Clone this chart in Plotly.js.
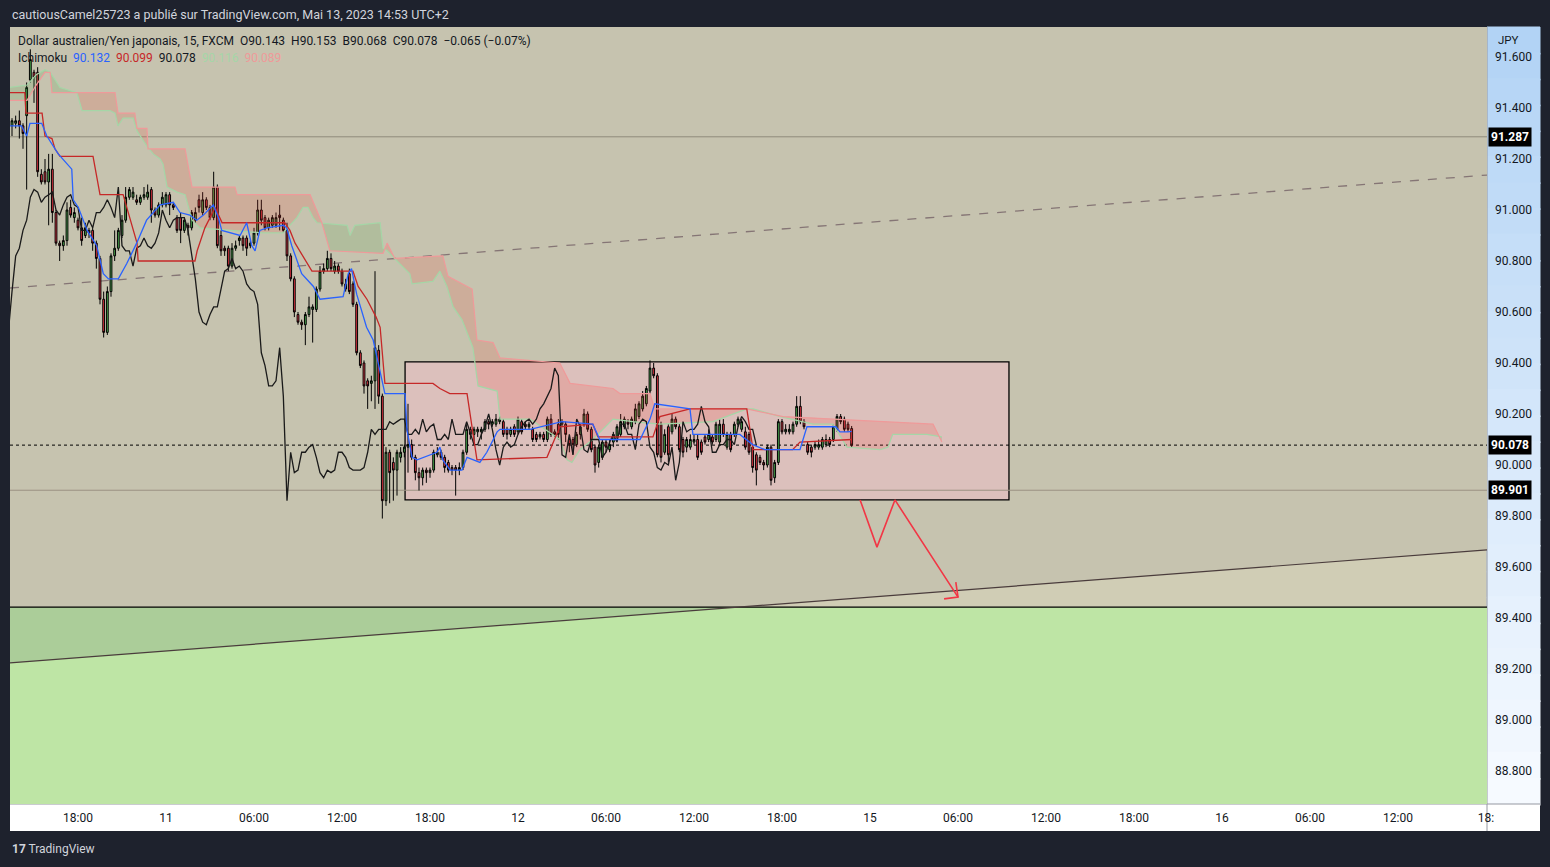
<!DOCTYPE html>
<html>
<head>
<meta charset="utf-8">
<script src="https://cdn.plot.ly/plotly-3.0.1.min.js"></script>
<style>
html,body{margin:0;padding:0;background:#1e222d;}
#chart{width:1550px;height:867px;}
</style>
</head>
<body>
<div id="chart"></div>
<script>
// ---------- DATA (15-minute bars, x = bar index) ----------
const openP = [
91.33,91.34,91.35,91.33,91.37,91.51,91.54,91.54,91.14,91.15,
91.11,91.16,90.99,90.87,90.86,90.88,91.01,90.97,90.96,90.93,
90.90,90.92,90.92,90.87,90.81,90.65,90.52,90.68,90.82,90.85,
90.90,90.96,91.05,91.05,91.04,91.03,91.05,91.05,91.08,91.00,
90.98,91.02,91.02,91.06,91.02,90.97,90.97,90.92,90.94,90.93,
90.96,91.04,90.99,91.04,91.01,90.97,91.09,90.90,90.85,90.85,
90.78,90.85,90.88,90.89,90.89,90.86,90.87,90.91,91.00,90.97,
90.93,90.94,90.94,90.98,90.96,90.92,90.82,90.73,
90.59,90.56,90.55,90.59,90.61,90.61,90.69,90.76,90.77,90.81,
90.76,90.78,90.76,90.71,90.75,90.71,90.63,90.44,90.40,90.33,
90.32,90.33,90.45,90.27,89.86,90.05,90.01,89.98,90.03,90.05,
90.07,90.08,90.03,89.97,89.95,89.98,89.97,89.98,90.04,90.05,
90.03,90.01,89.99,89.99,89.98,89.99,90.05,90.14,90.12,90.13,
90.13,90.14,90.17,90.16,90.16,90.17,90.17,90.14,90.12,90.15,
90.13,90.17,90.16,90.15,90.14,90.12,90.11,90.12,90.10,90.18,
90.13,90.16,90.16,90.16,90.10,90.10,90.08,
90.12,90.16,90.20,90.14,90.07,90.01,90.03,90.09,90.06,90.09,
90.11,90.12,90.15,90.17,90.15,90.17,90.19,90.22,90.24,90.29,
90.38,90.35,90.16,90.05,90.15,90.13,90.18,90.15,90.10,90.07,
90.07,90.09,90.10,90.09,90.11,90.10,90.11,90.10,90.09,90.16,
90.07,90.12,90.12,90.16,90.14,90.13,90.12,90.07,90.04,90.03,
90.01,90.00,90.07,89.95,90.01,90.17,90.13,90.13,90.13,90.16,
90.23,90.17,90.08,90.07,90.07,90.07,90.07,90.08,90.10,90.10,
90.14,90.19,90.18,90.16,90.143];
const highP = [
91.36,91.37,91.39,91.34,91.50,91.63,91.55,91.56,91.16,91.20,
91.22,91.22,91.00,90.88,90.90,91.03,91.04,91.01,90.97,90.97,
90.95,90.93,90.93,90.88,90.82,90.68,90.70,90.83,90.92,90.93,
90.98,91.09,91.09,91.09,91.06,91.06,91.09,91.10,91.09,91.01,
91.03,91.07,91.07,91.07,91.03,90.98,90.99,90.97,90.95,91.00,
91.01,91.06,91.07,91.05,91.02,91.15,91.10,90.92,90.86,90.86,
90.87,90.88,90.90,90.90,90.90,90.88,90.93,91.04,91.04,90.98,
90.97,90.98,90.99,91.02,90.97,90.95,90.83,90.74,
90.60,90.57,90.60,90.66,90.63,90.70,90.78,90.79,90.84,90.83,
90.80,90.79,90.77,90.73,90.77,90.72,90.64,90.45,90.41,90.34,
90.35,90.76,90.47,90.28,90.07,90.06,90.03,90.06,90.07,90.08,
90.24,90.10,90.04,89.99,89.99,89.99,89.99,90.06,90.07,90.06,
90.04,90.02,90.00,90.00,90.01,90.06,90.16,90.15,90.15,90.15,
90.15,90.18,90.18,90.18,90.20,90.19,90.18,90.15,90.15,90.16,
90.19,90.18,90.17,90.17,90.15,90.13,90.13,90.13,90.19,90.20,
90.14,90.18,90.18,90.17,90.11,90.11,90.13,
90.16,90.22,90.21,90.15,90.08,90.08,90.10,90.10,90.10,90.13,
90.16,90.20,90.19,90.18,90.19,90.24,90.25,90.29,90.31,90.41,
90.40,90.36,90.17,90.14,90.16,90.20,90.19,90.16,90.11,90.11,
90.12,90.12,90.12,90.10,90.12,90.14,90.12,90.17,90.18,90.18,
90.13,90.13,90.17,90.19,90.18,90.15,90.13,90.08,90.05,90.04,
90.02,90.08,90.08,90.02,90.18,90.18,90.16,90.16,90.17,90.27,
90.27,90.18,90.09,90.08,90.09,90.10,90.11,90.12,90.11,90.16,
90.20,90.20,90.19,90.17,90.153];
const lowP = [
91.29,91.32,91.28,91.24,91.08,91.50,91.42,91.13,91.10,91.10,
90.94,90.95,90.86,90.80,90.84,90.86,90.97,90.95,90.92,90.86,
90.89,90.89,90.84,90.77,90.63,90.50,90.51,90.66,90.80,90.84,
90.89,90.95,91.04,91.04,91.02,91.02,91.04,91.04,90.95,90.97,
90.97,91.01,91.01,90.98,91.00,90.91,90.87,90.91,90.90,90.92,
90.95,90.99,90.98,91.00,90.96,90.96,90.85,90.82,90.82,90.76,
90.77,90.84,90.86,90.84,90.82,90.85,90.86,90.90,90.94,90.92,
90.92,90.93,90.93,90.92,90.91,90.80,90.72,90.58,
90.55,90.53,90.47,90.58,90.48,90.60,90.68,90.75,90.76,90.76,
90.75,90.75,90.70,90.68,90.67,90.62,90.43,90.38,90.28,90.22,
90.25,90.22,90.24,89.79,89.84,89.85,89.86,89.88,90.01,90.03,
89.97,90.02,89.94,89.90,89.92,89.93,89.95,89.97,90.03,90.02,
89.97,89.97,89.96,89.88,89.96,89.98,90.04,90.10,90.08,90.11,
90.10,90.13,90.14,90.15,90.15,90.16,90.11,90.10,90.11,90.11,
90.12,90.12,90.14,90.14,90.09,90.09,90.10,90.09,90.09,90.11,
90.11,90.10,90.15,90.09,90.05,90.04,90.07,
90.10,90.15,90.13,90.05,89.97,89.99,90.02,90.05,90.05,90.07,
90.10,90.11,90.14,90.14,90.14,90.16,90.18,90.21,90.23,90.28,
90.34,90.03,90.01,90.04,90.01,90.12,90.14,90.05,90.03,90.05,
90.06,90.08,90.02,90.04,90.08,90.09,90.08,90.09,90.08,90.11,
90.06,90.05,90.11,90.15,90.13,90.06,90.04,89.97,89.92,90.00,
89.98,89.99,89.92,89.93,90.00,90.12,90.12,90.12,90.12,90.15,
90.16,90.14,90.04,90.03,90.06,90.06,90.06,90.07,90.07,90.09,
90.13,90.16,90.13,90.13,90.068];
const closeP = [
91.35,91.35,91.33,91.30,91.48,91.59,91.52,91.15,91.11,91.11,
91.16,90.99,90.87,90.86,90.88,91.00,90.98,90.99,90.93,90.88,
90.93,90.91,90.87,90.81,90.65,90.52,90.68,90.82,90.85,90.92,
90.96,91.05,91.08,91.07,91.03,91.05,91.06,91.07,91.00,90.98,
91.02,91.05,91.06,91.02,91.01,90.92,90.92,90.96,90.93,90.99,
90.99,91.01,91.04,91.01,90.97,91.09,90.86,90.84,90.84,90.78,
90.85,90.86,90.89,90.86,90.85,90.87,90.91,91.00,90.96,90.93,
90.96,90.97,90.97,90.97,90.92,90.82,90.73,90.60,
90.56,90.55,90.59,90.62,90.62,90.69,90.76,90.77,90.81,90.77,
90.78,90.76,90.71,90.69,90.68,90.63,90.44,90.39,90.31,90.31,
90.33,90.46,90.27,89.86,90.05,89.97,89.98,90.05,90.05,90.07,
90.08,90.03,89.97,89.95,89.98,89.97,89.98,90.05,90.05,90.03,
89.99,89.98,89.98,89.98,89.99,90.05,90.14,90.12,90.14,90.14,
90.14,90.17,90.16,90.17,90.18,90.18,90.12,90.12,90.14,90.12,
90.18,90.13,90.15,90.16,90.10,90.10,90.12,90.10,90.18,90.12,
90.12,90.12,90.17,90.12,90.08,90.08,90.12,
90.15,90.20,90.14,90.06,90.00,90.07,90.09,90.07,90.08,90.12,
90.15,90.17,90.18,90.16,90.18,90.22,90.24,90.27,90.30,90.38,
90.35,90.04,90.03,90.12,90.04,90.18,90.15,90.06,90.05,90.10,
90.10,90.10,90.03,90.05,90.09,90.12,90.09,90.16,90.16,90.12,
90.12,90.06,90.16,90.18,90.17,90.07,90.05,89.99,89.98,90.01,
90.00,90.07,89.94,90.01,90.17,90.13,90.14,90.14,90.16,90.23,
90.17,90.15,90.05,90.05,90.08,90.08,90.10,90.10,90.08,90.15,
90.19,90.17,90.14,90.14,90.078];

// Ichimoku lines (x in bars)
const convX = [-1,2.6,4.0,4.9,8.1,9.5,12.6,14.9,16.3,16.7,18.1,20.5,23.1,24.9,26.3,29.0,31.3,34.0,36.7,40.4,44.0,45.8,48.5,50.4,52.2,54.9,56.3,57.2,62.2,64.0,65.4,66.3,67.6,69.5,74.0,74.9,76.3,79.0,82.2,84.0,90.3,91.7,92.6,94.0,96.7,98.5,101.7,107.2,107.7,109.1,110.5,115.9,116.7,117.5,119.5,122.7,124.1,127.6,129.5,132.3,133.1,141.3,150.0,158.4,160.3,171.3,174.0,175.3,184.9,185.7,198.5,202.0,205.3,214.9,216.8,224.7,225.8,228,229];
const convY = [91.33,91.33,91.29,91.34,91.34,91.29,91.22,91.18,91.16,91.04,91.01,90.92,90.86,90.75,90.73,90.73,90.79,90.87,90.96,91.02,91.03,90.99,90.98,90.96,90.98,91.02,90.97,90.92,90.90,90.95,90.86,90.84,90.92,90.93,90.94,90.93,90.86,90.75,90.70,90.65,90.66,90.75,90.77,90.67,90.54,90.49,90.28,90.28,90.14,90.03,90.02,90.05,90.07,90.02,89.98,89.98,90.03,90.01,90.05,90.13,90.14,90.14,90.17,90.16,90.10,90.10,90.18,90.24,90.22,90.12,90.12,90.08,90.06,90.06,90.15,90.15,90.13,90.13,90.132];
const baseX = [-1,3.5,3.8,8.2,9.0,10.9,11.7,13.1,22.1,24.0,30.3,34.1,34.4,49.9,50.5,52.6,55.4,57.3,74.4,75.8,77.2,81.8,93.0,94.4,96.8,99.3,100.4,101.7,114.8,116.7,119.4,124.1,126.8,145.9,149.4,158.4,159.8,174.8,176.7,184.9,200.4,202.1,212.9,214.9,229];
const baseY = [91.46,91.46,91.38,91.38,91.29,91.28,91.24,91.21,91.21,91.06,91.06,90.87,90.80,90.80,90.84,90.93,91.01,90.95,90.95,90.92,90.87,90.76,90.76,90.70,90.65,90.58,90.54,90.32,90.32,90.30,90.28,90.28,90.02,90.03,90.15,90.16,90.11,90.11,90.19,90.22,90.22,90.06,90.06,90.09,90.10];
const spanAX = [-1,4.1,6.6,9.0,10.4,13.1,17.7,19.1,26.7,28.1,28.9,30.3,33.0,34.1,36.8,38.5,40.4,41.2,42.3,45.0,47.2,49.1,51.3,68.4,73.9,75.8,77.7,79.4,80.7,82.1,83.2,91.4,92.2,93.5,100.4,101.2,102.3,105.0,108.5,109.1,114.8,116.7,118.6,120.3,122.7,125.7,127.1,132.3,133.1,141.3,149.4,151.4,152.7,154.9,158.4,163.9,169.3,176.7,191.2,200.4,202.1,209.5,218.5,223.9,227.7,236.7,238.9,240.2,249.5,253.6];
const spanAY = [91.48,91.49,91.53,91.55,91.54,91.48,91.46,91.39,91.39,91.38,91.33,91.36,91.36,91.31,91.25,91.22,91.20,91.18,91.09,91.07,91.06,90.96,90.93,90.91,90.91,90.94,90.97,91.01,91.01,90.97,90.95,90.94,90.90,90.94,90.95,90.85,90.84,90.80,90.75,90.71,90.72,90.76,90.70,90.62,90.57,90.46,90.31,90.29,90.18,90.18,90.10,90.02,90.01,90.06,90.10,90.18,90.17,90.16,90.17,90.22,90.22,90.19,90.16,90.16,90.07,90.06,90.07,90.12,90.12,90.11];
const spanBX = [-1,4.1,6.6,9.0,10.4,10.9,28.1,28.9,33.5,34.1,36.8,37.1,47.2,49.1,60.8,61.4,81.3,84.5,86.7,101.2,102.3,104.4,117.5,118.9,125.5,126.8,131.2,133.1,149.4,152.2,163.9,165.8,174.0,175.3,200.4,210.3,251.2,253.6];
const spanBY = [91.43,91.43,91.49,91.54,91.54,91.46,91.46,91.38,91.38,91.32,91.32,91.24,91.24,91.09,91.09,91.06,91.06,90.95,90.84,90.83,90.87,90.81,90.82,90.74,90.69,90.49,90.48,90.42,90.40,90.32,90.30,90.28,90.28,90.22,90.22,90.19,90.16,90.09];
const laggingShift = 26;

// Drawings (x in bars, y in price)
const channelX = [-0.545, 402.27];
const channelLowY = [89.224, 89.667];
const channelHighY = [90.694, 91.137];
const zoneTop = 89.443;
const resistance = 91.287;
const support = 89.901;
const lastPrice = 90.078;
const boxX = [107.2, 271.9];
const boxY = [89.863, 90.404];
const arrowX = [231.3, 235.9, 240.8, 258.0];
const arrowY = [89.863, 89.678, 89.863, 89.482];
const arrowHeadX = [257.4, 258.0, 254.2];
const arrowHeadY = [89.541, 89.482, 89.475];

// Axis ticks
const xRange = [-0.545, 402.27];
const yRange = [88.6706, 91.7176];
const xTickVals = [18,42,66,90,114,138,162,186,210,234,258,282,306,330,354,378,402];
const xTickText = ['18:00','11','06:00','12:00','18:00','12','06:00','12:00','18:00','15','06:00','12:00','18:00','16','06:00','12:00','18:'];
const yTickVals = [88.8,89.0,89.2,89.4,89.6,89.8,90.0,90.2,90.4,90.6,90.8,91.0,91.2,91.4,91.6];
const yTickText = yTickVals.map(v => v.toFixed(3));

// ---------- BUILD ----------
const FONT = "Roboto, 'Liberation Sans', Arial, sans-serif";
const idx = closeP.map((_, i) => i);

function interp(x, xs, ys) {
  if (x <= xs[0]) return ys[0];
  for (let i = 1; i < xs.length; i++) {
    if (x <= xs[i]) {
      const d = xs[i] - xs[i-1];
      const t = d === 0 ? 1 : (x - xs[i-1]) / d;
      return ys[i-1] + t * (ys[i] - ys[i-1]);
    }
  }
  return ys[ys.length - 1];
}

// Cloud fill polygons between span A and span B
function cloudTraces() {
  const lo = Math.max(spanAX[0], spanBX[0]);
  const hi = Math.min(spanAX[spanAX.length-1], spanBX[spanBX.length-1]);
  const grid = [...new Set([...spanAX, ...spanBX])].filter(v => v >= lo && v <= hi).sort((a,b)=>a-b);
  const runs = [];
  let cur = null, prev = null;
  grid.forEach(x => {
    const a = interp(x, spanAX, spanAY), b = interp(x, spanBX, spanBY);
    const s = a >= b ? 1 : -1;
    if (!cur) { cur = {s, x:[x], a:[a], b:[b]}; }
    else if (s !== cur.s) {
      const d0 = prev.a - prev.b, d1 = a - b;
      const t = d0 / (d0 - d1);
      const xc = prev.x + t * (x - prev.x);
      const yc = prev.a + t * (a - prev.a);
      cur.x.push(xc); cur.a.push(yc); cur.b.push(yc);
      runs.push(cur);
      cur = {s, x:[xc, x], a:[yc, a], b:[yc, b]};
    } else { cur.x.push(x); cur.a.push(a); cur.b.push(b); }
    prev = {x, a, b};
  });
  if (cur) runs.push(cur);
  return runs.map(r => ({
    type:'scatter', mode:'lines', hoverinfo:'skip', showlegend:false,
    x: r.x.concat(r.x.slice().reverse()),
    y: r.a.concat(r.b.slice().reverse()),
    fill:'toself', line:{width:0},
    fillcolor: r.s > 0 ? 'rgba(67,160,71,0.16)' : 'rgba(244,67,54,0.17)'
  }));
}

const traces = [];
traces.push({
  type:'candlestick', x: idx, open: openP, high: highP, low: lowP, close: closeP,
  increasing:{line:{color:'#000000', width:1}, fillcolor:'#4caf50'},
  decreasing:{line:{color:'#000000', width:1}, fillcolor:'#f23645'},
  whiskerwidth:0, hoverinfo:'skip', showlegend:false
});
cloudTraces().forEach(t => traces.push(t));
traces.push({type:'scatter', mode:'lines', x: spanAX, y: spanAY, line:{color:'#a5d6a7', width:1.2}, hoverinfo:'skip', showlegend:false});
traces.push({type:'scatter', mode:'lines', x: spanBX, y: spanBY, line:{color:'#ef9a9a', width:1.2}, hoverinfo:'skip', showlegend:false});
traces.push({type:'scatter', mode:'lines', x: idx.map(i => i - laggingShift), y: closeP, line:{color:'#1a1a1a', width:1.3}, hoverinfo:'skip', showlegend:false});
traces.push({type:'scatter', mode:'lines', x: baseX, y: baseY, line:{color:'#c62828', width:1.3}, hoverinfo:'skip', showlegend:false});
traces.push({type:'scatter', mode:'lines', x: convX, y: convY, line:{color:'#2962ff', width:1.3}, hoverinfo:'skip', showlegend:false});
traces.push({type:'scatter', mode:'lines', x: arrowX, y: arrowY, line:{color:'#f23645', width:1.6}, hoverinfo:'skip', showlegend:false});
traces.push({type:'scatter', mode:'lines', x: arrowHeadX, y: arrowHeadY, line:{color:'#f23645', width:1.6}, hoverinfo:'skip', showlegend:false});

// Shapes
const slope = (channelLowY[1] - channelLowY[0]) / (channelX[1] - channelX[0]);
const xCross = channelX[0] + (zoneTop - channelLowY[0]) / slope;
const shapes = [];
shapes.push({type:'path', xref:'x', yref:'y', layer:'below', line:{width:0}, fillcolor:'#c6c3af',
  path:`M ${channelX[0]},${channelLowY[0]} L ${channelX[1]},${channelLowY[1]} L ${channelX[1]},${yRange[1]} L ${channelX[0]},${yRange[1]} Z`});
shapes.push({type:'rect', xref:'x', yref:'y', layer:'below', line:{width:0}, fillcolor:'#bee5a5',
  x0:xRange[0], x1:xRange[1], y0:yRange[0], y1:zoneTop});
shapes.push({type:'path', xref:'x', yref:'y', layer:'below', line:{width:0}, fillcolor:'#abcd99',
  path:`M ${channelX[0]},${zoneTop} L ${xCross},${zoneTop} L ${channelX[0]},${channelLowY[0]} Z`});
shapes.push({type:'rect', xref:'x', yref:'y', layer:'below', line:{color:'#000000', width:1.3}, fillcolor:'#dcc0bc',
  x0:boxX[0], x1:boxX[1], y0:boxY[0], y1:boxY[1]});
shapes.push({type:'line', xref:'x', yref:'y', layer:'below', line:{color:'#8f8a7b', width:1},
  x0:xRange[0], x1:xRange[1], y0:resistance, y1:resistance});
shapes.push({type:'line', xref:'x', yref:'y', layer:'below', line:{color:'#9b9283', width:1},
  x0:xRange[0], x1:xRange[1], y0:support, y1:support});
shapes.push({type:'line', xref:'x', yref:'y', layer:'below', line:{color:'#000000', width:1, dash:'dot'},
  x0:xRange[0], x1:xRange[1], y0:lastPrice, y1:lastPrice});
shapes.push({type:'line', xref:'x', yref:'y', layer:'below', line:{color:'#000000', width:1.2},
  x0:xRange[0], x1:xRange[1], y0:zoneTop, y1:zoneTop});
shapes.push({type:'line', xref:'x', yref:'y', layer:'below', line:{color:'#4a3c3c', width:1.2},
  x0:channelX[0], x1:channelX[1], y0:channelLowY[0], y1:channelLowY[1]});
shapes.push({type:'line', xref:'x', yref:'y', layer:'below', line:{color:'#857575', width:1.3, dash:'dash'},
  x0:channelX[0], x1:channelX[1], y0:channelHighY[0], y1:channelHighY[1]});

// Axis strips (paper coords)
const PW = 1477, PH = 777;
const stripR = 1 + 53/PW;
const stripB = -27/PH;
const bands = 30;
const c0 = [178,211,245], c1 = [246,250,255];
for (let i = 0; i < bands; i++) {
  const t = i / (bands - 1);
  const c = c0.map((v, k) => Math.round(v + (c1[k] - v) * t));
  const col = `rgb(${c[0]},${c[1]},${c[2]})`;
  shapes.push({type:'rect', xref:'paper', yref:'paper', layer:'below', line:{width:1, color:col},
    fillcolor:col, x0:1, x1:stripR, y0:1 - (i+1)/bands - 0.002, y1:1 - i/bands});
}
shapes.push({type:'rect', xref:'paper', yref:'paper', layer:'below', line:{width:0}, fillcolor:'#ffffff',
  x0:0, x1:stripR, y0:stripB, y1:0});
shapes.push({type:'line', xref:'paper', yref:'paper', layer:'below', line:{color:'#9598a1', width:1},
  x0:1, x1:1, y0:stripB, y1:1});
shapes.push({type:'line', xref:'paper', yref:'paper', layer:'below', line:{color:'#9598a1', width:1},
  x0:0, x1:stripR, y0:0, y1:0});

// Annotations
const nb = '\u00a0\u00a0';
const annotations = [
  {xref:'paper', yref:'paper', x:0, y:1 + 13/PH, xanchor:'left', yanchor:'middle', showarrow:false,
   text:'cautiousCamel25723 a publié sur TradingView.com, Mai 13, 2023 14:53 UTC+2',
   font:{family:FONT, size:12.5, color:'#d1d4dc'}},
  {xref:'paper', yref:'paper', x:6/PW, y:1 - 14/PH, xanchor:'left', yanchor:'middle', showarrow:false,
   text:'Dollar australien/Yen japonais, 15, FXCM' + nb + 'O90.143' + nb + 'H90.153' + nb + 'B90.068' + nb + 'C90.078' + nb + '\u22120.065 (\u22120.07%)',
   font:{family:FONT, size:12, color:'#131722'}},
  {xref:'paper', yref:'paper', x:6/PW, y:1 - 31/PH, xanchor:'left', yanchor:'middle', showarrow:false,
   text:'Ichimoku' + nb + '<span style="color:#2962ff">90.132</span>' + nb + '<span style="color:#c62828">90.099</span>' + nb + '90.078' + nb + '<span style="color:#a5d6a7">90.116</span>' + nb + '<span style="color:#ef9a9a">90.089</span>',
   font:{family:FONT, size:12, color:'#131722'}},
  {xref:'paper', yref:'paper', x:1 + 9/PW, y:1 - 13/PH, xanchor:'left', yanchor:'middle', showarrow:false,
   text:'JPY', font:{family:FONT, size:11.5, color:'#131722'}},
  {xref:'paper', yref:'paper', x:0, y:-45/PH, xanchor:'left', yanchor:'middle', showarrow:false,
   text:'<b>17</b> TradingView', font:{family:FONT, size:12, color:'#d1d4dc'}}
];
[resistance, lastPrice, support].forEach(v => annotations.push({
  xref:'paper', yref:'y', x:1 + 1/PW, y:v, xanchor:'left', yanchor:'middle', showarrow:false,
  text:'<b>' + v.toFixed(3) + '</b>', bgcolor:'#000000', borderpad:2,
  font:{family:FONT, size:12, color:'#ffffff'}
}));

const layout = {
  width:1550, height:867,
  margin:{l:10, r:63, t:27, b:63, pad:0},
  paper_bgcolor:'#1e222d', plot_bgcolor:'#d0cdb5',
  showlegend:false, hovermode:false,
  xaxis:{range:xRange, tickvals:xTickVals, ticktext:xTickText, showgrid:false, zeroline:false,
    showline:false, ticks:'', rangeslider:{visible:false}, fixedrange:true,
    tickfont:{family:FONT, size:12, color:'#131722'}, ticklabelstandoff:5},
  yaxis:{range:yRange, side:'right', tickvals:yTickVals, ticktext:yTickText, showgrid:false,
    zeroline:false, showline:false, ticks:'', fixedrange:true,
    tickfont:{family:FONT, size:12, color:'#131722'}, ticklabelstandoff:7},
  shapes, annotations
};

Plotly.newPlot('chart', traces, layout, {displayModeBar:false, staticPlot:true});
</script>
</body>
</html>
